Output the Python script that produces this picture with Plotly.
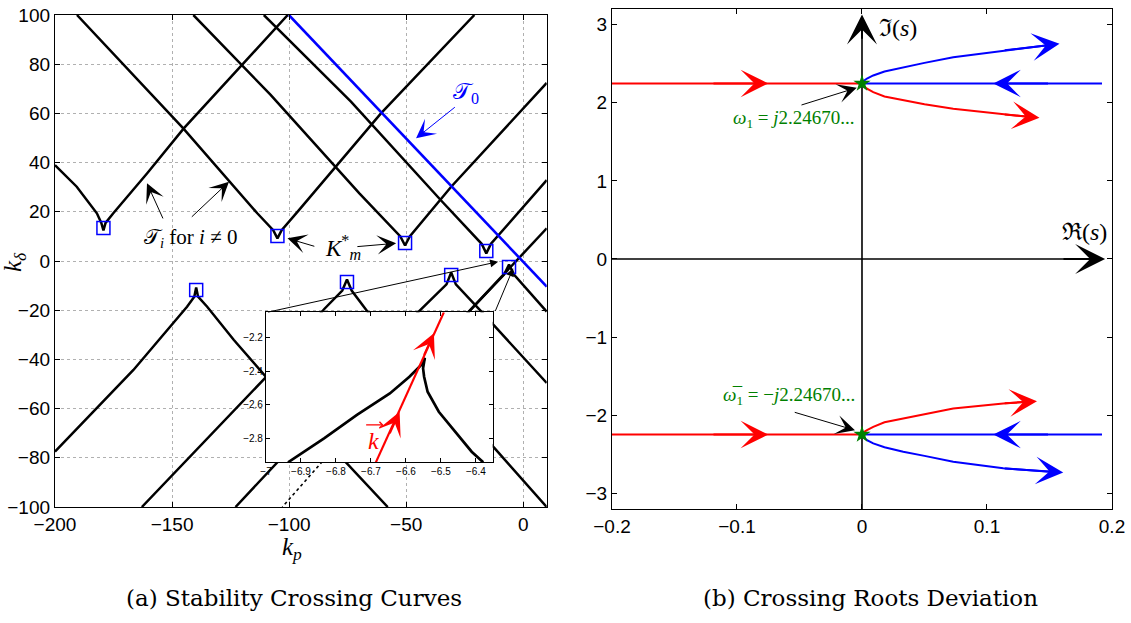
import plotly.graph_objects as go

# ---------------- Panel (a): stability crossing curves ----------------
V1_KP = [-200.0, -190.7, -182.1, -180.2, -179.3, -178.4, -175.1, -160.7, -145.0, -120.0, -100.6]
V1_KD = [39.0, 30.2, 19.4, 15.5, 12.4, 15.5, 19.4, 35.6, 53.9, 80.0, 100.0]
V2_KP = [-190.6, -145.3, -113.6, -106.8, -105.0, -103.2, -96.0, -60.8, -20.9]
V2_KD = [100.0, 54.0, 19.4, 12.5, 9.2, 12.5, 20.5, 60.0, 100.0]
V3_KP = [-140.9, -107.9, -70.0, -52.5, -50.5, -48.5, -30.8, 10.0]
V3_KD = [100.0, 67.5, 27.5, 10.0, 6.3, 10.0, 30.2, 72.4]
V4_KP = [-110.8, -73.6, -35.0, -17.8, -15.8, -13.8, 10.0]
V4_KD = [100.0, 64.8, 24.5, 7.0, 3.1, 7.0, 32.9]
L1_KP = [-200.0, -166.5, -143.6, -140.5, -139.7, -138.9, -135.0, -123.6, -109.7, -57.9]
L1_KD = [-77.5, -44.3, -18.6, -14.5, -10.8, -14.5, -18.6, -32.1, -47.3, -100.0]
L2_KP = [-162.9, -109.7, -85.0, -77.3, -75.3, -73.3, -66.5, -12.2, 10.0]
L2_KD = [-100.0, -47.0, -19.5, -12.0, -7.5, -12.0, -20.6, -76.2, -100.0]
L3_KP = [-122.9, -45.0, -32.8, -30.8, -28.8, -17.9, 10.0]
L3_KD = [-100.0, -20.9, -9.5, -4.7, -9.5, -20.6, -49.6]
L4_KP = [-23.6, -8.2, -6.1, -4.0, 10.0]
L4_KD = [-20.9, -5.5, -1.4, -5.5, -20.6]
PASS_KP = [10.0, -30.0]
PASS_KD = [13.3, -27.5]
DOT_KP = [-85.8, -102.9]
DOT_KD = [-81.5, -100.0]
T0_KP = [-100.1, 10.0]
T0_KD = [100.0, -10.4]
KM_KP = [-179.3, -105.0, -50.5, -15.8, -139.7, -75.3, -30.8, -6.1]
KM_KD = [13.4, 10.2, 7.3, 4.1, -11.8, -8.5, -5.7, -2.4]

# inset (zoom around the cusp near k_p = -6.5)
IN_A_KP = [-6.937, -6.834, -6.740, -6.646, -6.590, -6.552, -6.546]
IN_A_KD = [-2.942, -2.80, -2.661, -2.533, -2.434, -2.355, -2.321]
IN_B_KP = [-6.546, -6.551, -6.548, -6.538, -6.506, -6.459, -6.412, -6.379]
IN_B_KD = [-2.321, -2.384, -2.434, -2.523, -2.642, -2.761, -2.879, -2.942]
KVEC_KP = [-6.686, -6.4915]
KVEC_KD = [-2.942, -2.052]
KVEC_HEAD_KP = [-6.618, -6.520]
KVEC_HEAD_KD = [-2.642, -2.176]

# ---------------- Panel (b): crossing roots deviation ----------------
OMEGA1 = 2.2467
RED_H_RE = [-0.2, 0.0]
BLUE_H_RE = [0.0, 0.192]
BLUE_UP_RE = [0.0, 0.001, 0.004, 0.009, 0.018, 0.033, 0.050, 0.073, 0.113, 0.150]
BLUE_UP_IM = [2.2467, 2.275, 2.31, 2.349, 2.40, 2.455, 2.51, 2.583, 2.669, 2.74]
RED_UP_RE = [0.0, 0.001, 0.004, 0.009, 0.018, 0.033, 0.050, 0.073, 0.113, 0.136]
RED_UP_IM = [2.2467, 2.22, 2.18, 2.136, 2.08, 2.029, 1.98, 1.923, 1.850, 1.815]
RED_LO_RE = [0.0, 0.001, 0.004, 0.009, 0.018, 0.033, 0.050, 0.073, 0.113, 0.134]
RED_LO_IM = [-2.2467, -2.22, -2.19, -2.148, -2.09, -2.041, -1.98, -1.913, -1.849, -1.825]
BLUE_LO_RE = [0.0, 0.001, 0.004, 0.009, 0.018, 0.033, 0.050, 0.073, 0.113, 0.153]
BLUE_LO_IM = [-2.2467, -2.275, -2.32, -2.361, -2.41, -2.468, -2.52, -2.596, -2.680, -2.725]
# arrowheads: tip (re, im) and a point behind it along the path
HEAD_TIP_RE = [-0.075, 0.105, 0.158, 0.142, -0.075, 0.105, 0.140, 0.161]
HEAD_TIP_IM = [2.2467, 2.2467, 2.754, 1.808, -2.2467, -2.2467, -1.820, -2.732]
HEAD_TAIL_RE = [-0.12, 0.15, 0.113, 0.113, -0.12, 0.15, 0.113, 0.113]
HEAD_TAIL_IM = [2.2467, 2.2467, 2.669, 1.850, -2.2467, -2.2467, -1.849, -2.680]
HEAD_COLOR = ["red", "blue", "blue", "red", "red", "blue", "red", "blue"]

fig = go.Figure()


def line(x, y, color, width, xa, ya, dash=None):
    fig.add_trace(go.Scatter(x=x, y=y, mode="lines",
                             line=dict(color=color, width=width, dash=dash),
                             xaxis=xa, yaxis=ya, hoverinfo="skip", showlegend=False))


for xs, ys in [(V1_KP, V1_KD), (V2_KP, V2_KD), (V3_KP, V3_KD), (V4_KP, V4_KD),
               (L1_KP, L1_KD), (L2_KP, L2_KD), (L3_KP, L3_KD), (L4_KP, L4_KD),
               (PASS_KP, PASS_KD)]:
    line(xs, ys, "black", 2.5, "x", "y")
line(DOT_KP, DOT_KD, "black", 1.6, "x", "y", dash="dot")
line(T0_KP, T0_KD, "blue", 2.6, "x", "y")
fig.add_trace(go.Scatter(x=KM_KP, y=KM_KD, mode="markers",
                         marker=dict(symbol="square-open", size=13, color="blue",
                                     line=dict(width=1.5, color="blue")),
                         xaxis="x", yaxis="y", hoverinfo="skip", showlegend=False))

# inset
line(IN_A_KP, IN_A_KD, "black", 2.7, "x3", "y3")
line(IN_B_KP, IN_B_KD, "black", 2.7, "x3", "y3")
line(KVEC_KP, KVEC_KD, "red", 2.2, "x3", "y3")

# right panel: s-plane axes
line([0, 0], [-3.2, 3.0], "black", 1.6, "x2", "y2")
line([-0.2, 0.185], [0, 0], "black", 1.6, "x2", "y2")
line(RED_H_RE, [OMEGA1, OMEGA1], "red", 2.0, "x2", "y2")
line(BLUE_H_RE, [OMEGA1, OMEGA1], "blue", 2.0, "x2", "y2")
line(RED_H_RE, [-OMEGA1, -OMEGA1], "red", 2.0, "x2", "y2")
line(BLUE_H_RE, [-OMEGA1, -OMEGA1], "blue", 2.0, "x2", "y2")
line(BLUE_UP_RE, BLUE_UP_IM, "blue", 2.0, "x2", "y2")
line(RED_UP_RE, RED_UP_IM, "red", 2.0, "x2", "y2")
line(RED_LO_RE, RED_LO_IM, "red", 2.0, "x2", "y2")
line(BLUE_LO_RE, BLUE_LO_IM, "blue", 2.0, "x2", "y2")
fig.add_trace(go.Scatter(x=[0, 0], y=[OMEGA1, -OMEGA1], mode="markers",
                         marker=dict(symbol="star", size=13, color="green"),
                         xaxis="x2", yaxis="y2", hoverinfo="skip", showlegend=False))


def arrow(x, y, ax, ay, xref, yref, color, width, size, head=3):
    fig.add_annotation(x=x, y=y, ax=ax, ay=ay, xref=xref, yref=yref,
                       axref=xref, ayref=yref, showarrow=True, arrowhead=head,
                       arrowsize=size, arrowwidth=width, arrowcolor=color,
                       text="", standoff=0)


for i in range(len(HEAD_TIP_RE)):
    arrow(HEAD_TIP_RE[i], HEAD_TIP_IM[i], HEAD_TAIL_RE[i], HEAD_TAIL_IM[i],
          "x2", "y2", HEAD_COLOR[i], 2, 2.3)
# axis arrows of the s-plane
arrow(0, 3.13, 0, 2.8, "x2", "y2", "black", 2, 2.5)
arrow(0.1945, 0, 0.16, 0, "x2", "y2", "black", 2, 2.5)
# arrows to omega labels
arrow(-0.0042, 2.192, -0.0496, 1.965, "x2", "y2", "black", 1, 3.2)
arrow(-0.0056, -2.192, -0.055, -1.957, "x2", "y2", "black", 1, 3.2)
# inset arrows on k vector
for i in range(len(KVEC_HEAD_KP)):
    arrow(KVEC_HEAD_KP[i], KVEC_HEAD_KD[i], KVEC_HEAD_KP[i] - 0.03, KVEC_HEAD_KD[i] - 0.137,
          "x3", "y3", "red", 2, 2.0)
# vector arrow over the k label
arrow(-6.664, -2.72, -6.718, -2.72, "x3", "y3", "red", 1.2, 1.0, head=4)

# left panel annotation arrows
arrow(-160.7, 31.6, -153.6, 16.7, "x", "y", "black", 1, 3.2)
arrow(-125.7, 32.2, -142.2, 17.4, "x", "y", "black", 1, 3.2)
arrow(-100.7, 9.2, -88.6, 5.8, "x", "y", "black", 1, 3.2)
arrow(-54.3, 7.2, -71.5, 5.8, "x", "y", "black", 1, 3.2)
arrow(-45.8, 49.9, -28.6, 63.0, "x", "y", "blue", 1, 3.2)
arrow(-10.75, -0.28, -109.6, -20.9, "x", "y", "black", 1, 1.6, head=2)
arrow(-4.33, -2.97, -12.2, -20.9, "x", "y", "black", 1, 1.6, head=2)

SERIF = "Liberation Serif"
SANS = "Liberation Sans"
CAPTION = "DejaVu Serif"


def text(x, y, s, xref, yref, size, color="black", xanchor="center", angle=0, font=SERIF):
    fig.add_annotation(x=x, y=y, xref=xref, yref=yref, text=s, showarrow=False,
                       xanchor=xanchor, yanchor="middle", textangle=angle,
                       font=dict(family=font, size=size, color=color))


text(-142.2, 9.3, "𝒯<sub><i>i</i></sub> for <i>i</i> ≠ 0", "x", "y", 21)
text(-77.2, 5.3, "<i>K</i><sup>*</sup><sub><i>m</i></sub>", "x", "y", 23)
text(-24.3, 68.3, "𝒯<sub>0</sub>", "x", "y", 23, color="blue")
text(-6.693, -2.815, "<i>k</i>", "x3", "y3", 24, color="red")
text(0.0288, 2.96, "ℑ(<i>s</i>)", "x2", "y2", 24)
text(0.178, 0.34, "ℜ(<i>s</i>)", "x2", "y2", 24)
text(-0.004, 1.795, "<i>ω</i><sub>1</sub> = <i>j</i>2.24670...", "x2", "y2", 19,
     color="green", xanchor="right")
text(-0.004, -1.756, "<i>ω̅</i><sub>1</sub> = −<i>j</i>2.24670...", "x2", "y2", 19,
     color="green", xanchor="right")
text(0.0133, 0.5795, "<i>k</i><sub><i>δ</i></sub>", "paper", "paper", 25, angle=-90)
text(0.258, 0.119, "<i>k</i><sub><i>p</i></sub>", "paper", "paper", 25)
text(0.260, 0.040, "(a) Stability Crossing Curves", "paper", "paper", 23, font=CAPTION)
text(0.770, 0.040, "(b) Crossing Roots Deviation", "paper", "paper", 23, font=CAPTION)

axis_common = dict(showline=True, linecolor="black", linewidth=1.2, mirror="ticks",
                   ticks="inside", ticklen=5, tickcolor="black", zeroline=False,
                   automargin=False,
                   tickfont=dict(family=SANS, size=19, color="black"))
inset_common = dict(showline=True, linecolor="black", linewidth=1.2, mirror="ticks",
                    ticks="inside", ticklen=4, tickcolor="black", zeroline=False,
                    showgrid=False, automargin=False,
                    tickfont=dict(family=SANS, size=10, color="black"))

fig.update_layout(
    width=1131, height=623, margin=dict(l=0, r=0, t=0, b=0, autoexpand=False),
    paper_bgcolor="white", plot_bgcolor="white", showlegend=False,
    xaxis=dict(domain=[0.0486, 0.4834], range=[-200, 10], anchor="y",
               tickvals=[-200, -150, -100, -50, 0], showgrid=True,
               gridcolor="#b0b0b0", griddash="dot", gridwidth=1, **axis_common),
    yaxis=dict(domain=[0.1862, 0.9759], range=[-100, 100], anchor="x",
               tickvals=list(range(-100, 101, 20)), showgrid=True,
               gridcolor="#b0b0b0", griddash="dot", gridwidth=1, **axis_common),
    xaxis2=dict(domain=[0.5411, 0.9832], range=[-0.2, 0.2], anchor="y2",
                tickvals=[-0.2, -0.1, 0, 0.1, 0.2], showgrid=False, **axis_common),
    yaxis2=dict(domain=[0.1830, 0.9856], range=[-3.2, 3.2], anchor="x2",
                tickvals=[-3, -2, -1, 0, 1, 2, 3], showgrid=False, **axis_common),
    xaxis3=dict(domain=[0.2352, 0.4356], range=[-7.0, -6.352], anchor="y3",
                tickvals=[-7, -6.9, -6.8, -6.7, -6.6, -6.5, -6.4],
                ticktext=["−7", "−6.9", "−6.8", "−6.7", "−6.6", "−6.5", "−6.4"],
                **inset_common),
    yaxis3=dict(domain=[0.2579, 0.4987], range=[-2.942, -2.0516], anchor="x3",
                tickvals=[-2.8, -2.6, -2.4, -2.2], **inset_common),
)

fig.write_html("out.html")
